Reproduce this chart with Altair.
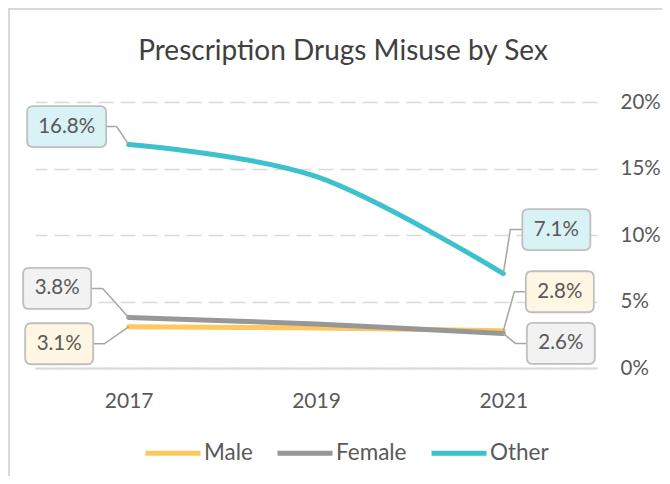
import altair as alt
import pandas as pd

# ---- data ----
years = ["2017", "2019", "2021"]
series_names = ["Male", "Female", "Other"]
male = [3.1, 3.0, 2.8]
female = [3.8, 3.3, 2.6]
other = [16.8, 14.4, 7.1]
y_ticks = [0, 5, 10, 15, 20]
title_text = "Prescription Drugs Misuse by Sex"

# ---- styles ----
colors = ["#FFC85E", "#979797", "#3DC1CC"]
box_fill = {"Male": "#FFF6E3", "Female": "#F2F2F2", "Other": "#D8F2F5"}
FONT = "Lato"
TXT = "#595959"
GRID = "#D9D9D9"

rows = []
for name, vals in zip(series_names, [male, female, other]):
    for yr, v in zip(years, vals):
        rows.append({"year": yr, "series": name, "value": v, "label": f"{v:.1f}%"})
df = pd.DataFrame(rows)

# callout geometry (pixel offsets from the data point): box centre, box width, leader polyline
callouts = [
    ("Other", "2017", (-62, -18), 79, [(0, 0), (-12, -18), (-22.5, -18)]),
    ("Female", "2017", (-71.5, -29), 68, [(0, 0), (-26, -29), (-37.5, -29)]),
    ("Male", "2017", (-69.5, 17), 68, [(0, 0), (-24.5, 17), (-35.5, 17)]),
    ("Other", "2021", (53, -44), 68, [(0, 0), (7, -44), (19, -44)]),
    ("Male", "2021", (56.5, -39), 68, [(0, 0), (11, -39), (22.5, -39)]),
    ("Female", "2021", (57.5, 10), 68, [(0, 0), (12, 10), (23.5, 10)]),
]
BOX_H = 41
RAD = 6


def rrect(cx, cy, w, h, r):
    x0, x1 = cx - w / 2, cx + w / 2
    y0, y1 = cy - h / 2, cy + h / 2
    return (f"M{x0+r},{y0}H{x1-r}Q{x1},{y0},{x1},{y0+r}V{y1-r}Q{x1},{y1},{x1-r},{y1}"
            f"H{x0+r}Q{x0},{y1},{x0},{y1-r}V{y0+r}Q{x0},{y0},{x0+r},{y0}Z")


def polyline(pts):
    return "M" + "L".join(f"{x},{y}" for x, y in pts)


x_enc = alt.X("year:N", sort=years,
              scale=alt.Scale(type="point", padding=0.5),
              axis=alt.Axis(title=None, labelAngle=0, labelFont=FONT, labelFontSize=21,
                            labelColor=TXT, labelPadding=22, ticks=False, grid=False,
                            domain=True, domainColor=GRID, domainWidth=2))
y_enc = alt.Y("value:Q", scale=alt.Scale(domain=[0, 20], nice=False),
              axis=alt.Axis(title=None, orient="right", values=y_ticks,
                            labelExpr="datum.value + '%'", labelFont=FONT,
                            labelFontSize=20.5, labelColor=TXT, labelAlign="left",
                            labelPadding=23, ticks=False, domain=False,
                            grid=True, gridColor=GRID, gridWidth=1.6,
                            gridDash=[15, 7]))

base = alt.Chart(df)

frame = alt.Chart(alt.Data(values=[{}])).mark_rect(
    fillOpacity=0, stroke=GRID, strokeWidth=2
).encode(x=alt.value(-26), x2=alt.value(700), y=alt.value(-93), y2=alt.value(500))

title = alt.Chart(alt.Data(values=[{"t": title_text}])).mark_text(
    font=FONT, fontSize=28, color="#404040", align="center", baseline="alphabetic"
).encode(x=alt.value(308), y=alt.value(-42), text="t:N")

lines = base.mark_line(interpolate="cardinal", strokeWidth=5, strokeCap="round").encode(
    x=x_enc, y=y_enc,
    color=alt.Color("series:N", scale=alt.Scale(domain=series_names, range=colors),
                    legend=alt.Legend(orient="none", legendX=108, legendY=321,
                                      direction="horizontal", title=None,
                                      symbolType="stroke", symbolSize=3025,
                                      symbolStrokeWidth=5, labelFont=FONT,
                                      labelFontSize=22.5, labelColor=TXT,
                                      labelOffset=1, columnPadding=14, padding=0)),
    order=alt.Order("order:Q"),
).transform_calculate(order="indexof(['Male','Female','Other'], datum.series)")

layers = [frame, title, lines]
for s, yr, (cx, cy), w, leader in callouts:
    sub = base.transform_filter(f"datum.series == '{s}' && datum.year == '{yr}'")
    layers.append(sub.mark_point(shape=polyline(leader), size=4, filled=False,
                                 stroke="#A6A6A6", strokeWidth=1.5, opacity=1)
                  .encode(x=x_enc, y=y_enc))
    layers.append(sub.mark_point(shape=rrect(cx, cy, w, BOX_H, RAD), size=4, filled=True,
                                 fill=box_fill[s], fillOpacity=1, stroke="#BFBFBF",
                                 strokeWidth=1.8, strokeOpacity=1, opacity=1)
                  .encode(x=x_enc, y=y_enc))
    layers.append(sub.mark_text(dx=cx, dy=cy, align="center", baseline="middle",
                                font=FONT, fontSize=20.5, color=TXT)
                  .encode(x=x_enc, y=y_enc, text="label:N"))

chart = alt.layer(*layers).properties(
    width=562, height=266,
    padding={"left": 27, "top": 94, "right": 65, "bottom": 108},
    autosize=alt.AutoSizeParams(type="none"),
).configure_view(stroke=None)

chart.save("out.html", embed_options={"renderer": "svg", "actions": False})
